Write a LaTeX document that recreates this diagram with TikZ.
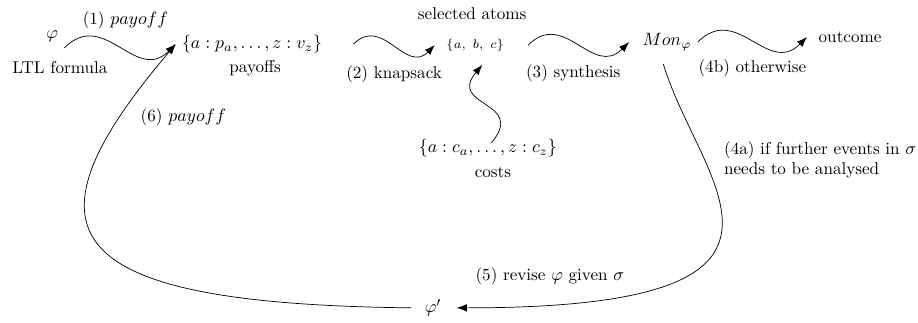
\documentclass[tikz,border=0pt]{standalone}
\usepackage{amsmath}
\usetikzlibrary{arrows.meta, positioning}

\begin{document}
\begin{tikzpicture}[
    every node/.style={font=\fontsize{9.6}{11.5}\selectfont},
    wave/.style={-{Latex[length=2mm]}, out=45, in=225, looseness=1.3},
    loop/.style={-{Latex[length=2mm]}}
]
\useasboundingbox (0,0) rectangle (18.1,6.35);

% objects
\node (phi)  at (1.03, 5.64) {$\varphi$};
\node (ltl)  at (1.18, 5.01) {LTL formula};
\node (pay)  at (4.97, 5.48) {$\{a:p_a,\ldots,z:v_z\}$};
\node (payl) at (5.03, 5.01) {payoffs};
\node[font=\fontsize{6.7}{8}\selectfont] (sel) at (9.37, 5.46) {$\{a,\ b,\ c\}$};
\node (sell) at (9.31, 6.09) {selected atoms};
\node (cost) at (9.62, 3.43) {$\{a:c_a,\ldots,z:c_z\}$};
\node (costl) at (9.72, 2.96) {costs};
\node (mon)  at (13.15, 5.52) {$Mon_\varphi$};
\node (out)  at (16.76, 5.62) {outcome};
\node (phi2) at (8.54, 0.28) {$\varphi'$};

% steps
\draw[wave] (phi.south east) to node[above=6pt, xshift=3pt] {(1) $payoff$} (pay.west);
\draw[wave] ([xshift=14pt]pay.east) to node[below=8pt] {(2) knapsack} ([xshift=-3pt]sel.west);
\draw[wave] ([xshift=10pt]sel.east) to node[below=8pt, xshift=-3pt] {(3) synthesis} ([xshift=-4pt]mon.west);
\draw[wave] (mon.east) to node[below=8pt] {(4b) otherwise} ([xshift=-3pt]out.west);
\draw[wave, out=50, in=230, looseness=1.8] ([xshift=2pt, yshift=3pt]cost.center) to ([xshift=4pt, yshift=-4pt]sel.south);

% revision loop
\draw[loop] ([xshift=-2pt, yshift=-4pt]mon.south) .. controls +(0.71,-2.37) and +(7.73,0) .. ([xshift=5pt]phi2.east)
    node[pos=0.27, right=7.5pt, align=left] {(4a) if further events in $\sigma$\\needs to be analysed}
    node[pos=0.91, above=8pt] {(5) revise $\varphi$ given $\sigma$};
\draw[loop] ([xshift=-4pt]phi2.west) .. controls +(-6.96,0.08) and +(-3.19,-3.75) .. (pay.west)
    node[pos=0.86, right=8pt] {(6) $payoff$};

\end{tikzpicture}
\end{document}
